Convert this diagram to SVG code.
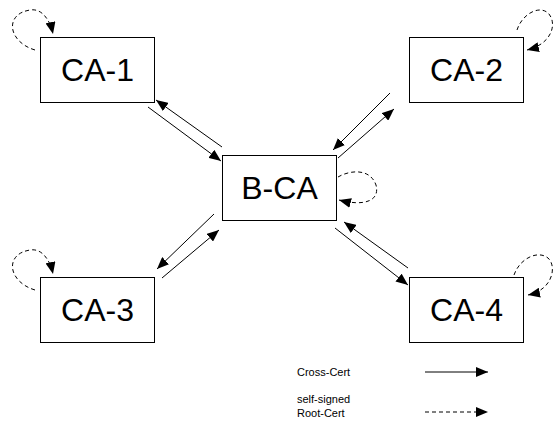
<svg xmlns="http://www.w3.org/2000/svg" width="555" height="428" viewBox="0 0 555 428">
<style>
.box{fill:#fff;stroke:#000;stroke-width:1}
.lbl{font-family:"Liberation Sans",Arial,sans-serif;font-size:32px;fill:#000;text-anchor:middle}
.leg{font-family:"Liberation Sans",Arial,sans-serif;font-size:11px;fill:#000}
.cc{fill:none;stroke:#000;stroke-width:1;marker-end:url(#ah)}
.ss{fill:none;stroke:#000;stroke-width:1;stroke-dasharray:4,3;marker-end:url(#ah)}
</style>
<defs>
<marker id="ah" markerUnits="userSpaceOnUse" markerWidth="12" markerHeight="10" refX="12" refY="5" orient="auto">
<path d="M0,0 L12,5 L0,10 z" fill="#000"/>
</marker>
</defs>
<rect width="555" height="428" fill="#fff"/>
<g id="ca1"><rect class="box" x="40.5" y="37.5" width="114" height="65"/><text class="lbl" x="97.5" y="81">CA-1</text></g>
<g id="ca2"><rect class="box" x="409.5" y="37.5" width="114" height="65"/><text class="lbl" x="466.5" y="81">CA-2</text></g>
<g id="bca"><rect class="box" x="222.5" y="155.5" width="114" height="65"/><text class="lbl" x="279.5" y="199">B-CA</text></g>
<g id="ca3"><rect class="box" x="40.5" y="277.5" width="114" height="65"/><text class="lbl" x="97.5" y="321">CA-3</text></g>
<g id="ca4"><rect class="box" x="409.5" y="277.5" width="114" height="65"/><text class="lbl" x="466.5" y="321">CA-4</text></g>
<g id="connectors">
<line class="cc" x1="222" y1="147" x2="156" y2="100"/>
<line class="cc" x1="148" y1="107" x2="221" y2="161"/>
<line class="cc" x1="390" y1="93" x2="333" y2="150"/>
<line class="cc" x1="338" y1="158" x2="394" y2="109"/>
<line class="cc" x1="214" y1="214" x2="157" y2="269"/>
<line class="cc" x1="162" y1="278" x2="219" y2="230"/>
<line class="cc" x1="335" y1="228" x2="408" y2="285"/>
<line class="cc" x1="408" y1="268" x2="344" y2="222"/>
<path class="ss" d="M35,50 C8,42 4,14 30,10 C42,8 50,20 53,34"/>
<path class="ss" d="M517,30 C522,14 540,4 549,14 C557,24 552,44 527,50"/>
<path class="ss" d="M338,177 C350,170 370,168 376,185 C380,200 366,207 339,200"/>
<path class="ss" d="M35,290 C8,282 4,254 30,250 C42,248 50,260 53,274"/>
<path class="ss" d="M514,275 C520,258 538,250 548,258 C557,266 553,290 528,295"/>
</g>
<g id="legend">
<text class="leg" x="297" y="376">Cross-Cert</text>
<line class="cc" x1="425" y1="372" x2="488" y2="372"/>
<text class="leg" x="297" y="403">self-signed</text>
<text class="leg" x="297" y="417">Root-Cert</text>
<line class="ss" x1="425" y1="412" x2="488" y2="412"/>
</g>
</svg>
